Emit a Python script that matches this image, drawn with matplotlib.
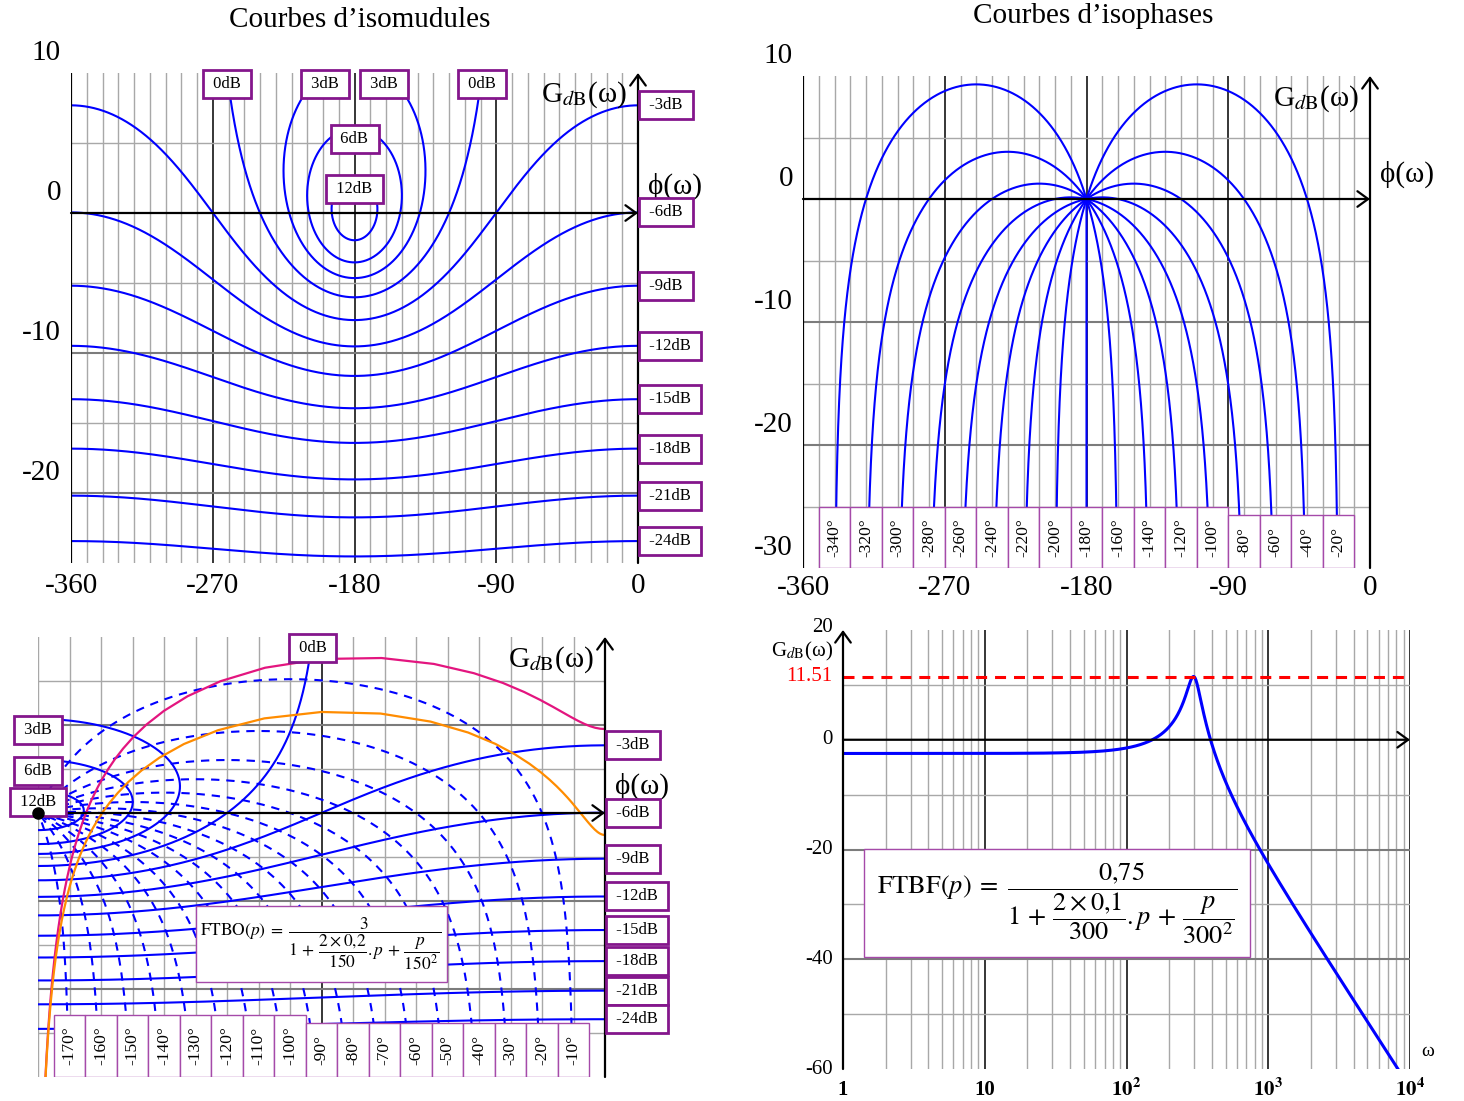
import numpy as np
import matplotlib
matplotlib.use("Agg")
import matplotlib.pyplot as plt
from matplotlib.patches import Rectangle
from matplotlib.transforms import offset_copy

plt.rcParams["font.family"] = ["Liberation Serif", "DejaVu Serif"]
plt.rcParams["mathtext.fontset"] = "stix"

# ---- data -----------------------------------------------------------------
ISO_MODULES_DB = [12, 6, 3, 0, -3, -6, -9, -12, -15, -18, -21, -24]
ISO_PHASES_TOP = [-340, -320, -300, -280, -260, -240, -220, -200, -180,
                  -160, -140, -120, -100, -80, -60, -40, -20]
ISO_PHASES_BOTTOM = [-170, -160, -150, -140, -130, -120, -110, -100, -90,
                     -80, -70, -60, -50, -40, -30, -20, -10]
FTBO_K, FTBO_ZETA, FTBO_WN = 3.0, 0.2, 150.0
FTBF_K, FTBF_ZETA, FTBF_WN = 0.75, 0.1, 300.0
FTBF_PEAK_DB = 11.51
NICHOLS_TICKS_X = [-360, -270, -180, -90, 0]
TL_TICKS_Y = [10, 0, -10, -20]
TR_TICKS_Y = [10, 0, -10, -20, -30]
BODE_TICKS_Y = [20, 0, -20, -40, -60]
BODE_TICKS_X = [1, 10, 100, 1000, 10000]
BODE_TICK_LABELS = ["1", "10", r"$\mathbf{10^{2}}$", r"$\mathbf{10^{3}}$", r"$\mathbf{10^{4}}$"]

BLUE = "#0000ff"
PURPLE = "#84168c"
LIGHT_PURPLE = "#a54aa9"
GRID_LIGHT = "#a8a8a8"
GRID_DARK = "#7c7c7c"
MAGENTA = "#e3157f"
ORANGE = "#ff8c00"

W, H = 1464, 1101
fig = plt.figure(figsize=(W / 100, H / 100), dpi=100)


def panel(left, top, right, bottom):
    ax = fig.add_axes([left / W, 1 - bottom / H, (right - left) / W, (bottom - top) / H])
    ax.axis("off")
    return ax


def shifted(ax, dx, dy):
    return offset_copy(ax.transData, fig=fig, x=dx, y=dy, units="dots")


def arrow(ax, start, end, lw=1.6):
    ax.annotate("", xy=end, xytext=start, annotation_clip=False, zorder=5,
                arrowprops=dict(arrowstyle="->,head_length=0.55,head_width=0.4",
                                mutation_scale=14, lw=lw, color="black",
                                shrinkA=0, shrinkB=0))


def second_order(k, zeta, wn, w):
    u = w / wn
    return k / (1 - u ** 2 + 2j * zeta * u)


def nichols_xy(g):
    phase = np.degrees(np.angle(g))
    phase = np.where(phase > 0, phase - 360, phase)
    gain = 20 * np.log10(np.abs(g))
    idx = np.where(np.abs(np.diff(phase)) > 180)[0] + 1
    return np.insert(phase, idx, np.nan), np.insert(gain, idx, np.nan)


def iso_module(mdb):
    m = 10 ** (mdb / 20)
    if mdb == 0:
        theta = np.linspace(1e-5, 2 * np.pi - 1e-5, 40001)
    else:
        theta = np.linspace(0, 2 * np.pi, 40001)
    h = m * np.exp(1j * theta)
    return nichols_xy(h / (1 - h))


def iso_phase(psi):
    r = np.logspace(-3, 5, 6000)
    h = r * np.exp(1j * np.radians(psi))
    return nichols_xy(h / (1 - h))


def nichols_frame(ax, xmin, ymin, ymax, left_black=True):
    ax.set_xlim(xmin, 0)
    ax.set_ylim(ymin, ymax)
    for x in range(xmin, 0, 10):
        if x == xmin and left_black:
            ax.axvline(x, color="black", lw=1.6, zorder=4)
        elif x % 90 == 0 and x != xmin:
            ax.axvline(x, color="black", lw=1.1, zorder=1)
        else:
            ax.axvline(x, color=GRID_LIGHT, lw=1.0, zorder=1)
    for y in range(int(np.ceil(ymin / 5)) * 5, int(ymax), 5):
        if y == 0 or y <= ymin:
            continue
        if y % 10 == 0:
            ax.axhline(y, color=GRID_DARK, lw=1.5, zorder=1)
        else:
            ax.axhline(y, color=GRID_LIGHT, lw=1.0, zorder=1)
    arrow(ax, (xmin, 0), (0, 0))
    arrow(ax, (0, ymin), (0, ymax))


def label_box(ax, x, y, text, dx, dy, ha):
    ax.text(x, y, f" {text} ", transform=shifted(ax, dx, dy), ha=ha, va="center",
            fontsize=12, zorder=8, clip_on=False,
            bbox=dict(boxstyle="square,pad=0.36", fc="white", ec=PURPLE, lw=2))


def draw_modules(ax, xmin, ymax):
    for mdb in ISO_MODULES_DB:
        x, y = iso_module(mdb)
        ax.plot(x, y, color=BLUE, lw=1.5, zorder=3)
        name = f"{mdb}dB"
        if mdb < 0:
            i = np.nanargmax(x)
            label_box(ax, 0, y[i], name, 7, 0, "left")
        elif np.nanmax(y) > ymax:
            s = y - ymax
            for i in np.where(s[:-1] * s[1:] < 0)[0]:
                xc = x[i] + (x[i + 1] - x[i]) * (ymax - y[i]) / (y[i + 1] - y[i])
                if xmin <= xc <= 0:
                    label_box(ax, xc, ymax, name, 0, -11, "center")
        else:
            i = np.nanargmax(y)
            label_box(ax, x[i], y[i], name, 0, -11, "center")


def draw_phases(ax, levels, width, top_hi, top_lo, ymin, dashed):
    for psi in levels:
        x, y = iso_phase(psi)
        ax.plot(x, y, color=BLUE, lw=1.5, zorder=3,
                linestyle=(0, (4, 3.3)) if dashed else "-")
    for psi in levels:
        top = top_hi if psi < -95 else top_lo
        ax.add_patch(Rectangle((psi - width / 2, ymin), width, top - ymin, fc="white",
                               ec=LIGHT_PURPLE, lw=1.0, zorder=6))
        ax.text(psi, (top + ymin) / 2, f"{psi}°", rotation=90, ha="center",
                va="center", fontsize=12.5, zorder=7)


def axis_names(ax, ymax, dy_g, dy_phi):
    ax.text(0, ymax, "G$_{d\\mathrm{B}}$(ω)", transform=shifted(ax, -11, dy_g),
            ha="right", va="center", fontsize=21, zorder=7)
    ax.text(0, 0, "ϕ(ω)", transform=shifted(ax, 10, dy_phi),
            ha="left", va="center", fontsize=21, zorder=7)


# ---- top left: iso-modules ----------------------------------------------
ax_tl = panel(71, 73, 638, 563)
nichols_frame(ax_tl, -360, -25, 10)
draw_modules(ax_tl, -360, 10)
axis_names(ax_tl, 10, -22, 27)
for v in TL_TICKS_Y:
    ax_tl.text(-360, v, f"{v}", transform=shifted(ax_tl, -10, 20), ha="right",
               va="center", fontsize=21)
for v in NICHOLS_TICKS_X:
    ax_tl.text(v, -25, f"{v}", transform=shifted(ax_tl, 0, -23), ha="center",
               va="center", fontsize=21)
fig.text(360 / W, 1 - 20 / H, "Courbes d’isomudules", ha="center", va="center", fontsize=21)

# ---- top right: iso-phases ----------------------------------------------
ax_tr = panel(803, 76, 1370, 568)
nichols_frame(ax_tr, -360, -30, 10)
draw_phases(ax_tr, ISO_PHASES_TOP, 20, -25.0, -25.7, -30, dashed=False)
axis_names(ax_tr, 10, -23, 25)
for v in TR_TICKS_Y:
    ax_tr.text(-360, v, f"{v}", transform=shifted(ax_tr, -10, 20), ha="right",
               va="center", fontsize=21)
for v in NICHOLS_TICKS_X:
    ax_tr.text(v, -30, f"{v}", transform=shifted(ax_tr, 0, -20), ha="center",
               va="center", fontsize=21)
fig.text(1093 / W, 1 - 16 / H, "Courbes d’isophases", ha="center", va="center", fontsize=21)

# ---- bottom left: Nichols chart with FTBO / FTBF ------------------------
ax_bl = panel(38, 637, 605, 1077)
nichols_frame(ax_bl, -180, -30, 20, left_black=False)
draw_phases(ax_bl, ISO_PHASES_BOTTOM, 10, -22.9, -23.9, -30, dashed=True)
draw_modules(ax_bl, -180, 20)
axis_names(ax_bl, 20, -23, 27)
w_lin = np.arange(0, 10001, 10.0)
xo, yo = nichols_xy(second_order(FTBO_K, FTBO_ZETA, FTBO_WN, w_lin))
ax_bl.plot(xo, yo, color=MAGENTA, lw=1.6, zorder=4)
xf, yf = nichols_xy(second_order(FTBF_K, FTBF_ZETA, FTBF_WN, w_lin))
ax_bl.plot(xf, yf, color=ORANGE, lw=1.6, zorder=4)
ax_bl.plot([-180], [0], "o", color="black", ms=8, zorder=9, clip_on=False)

fig.add_artist(Rectangle((196 / W, 1 - 982 / H), 251 / W, 76 / H, transform=fig.transFigure,
                         fc="white", ec=LIGHT_PURPLE, lw=1.0, zorder=2))
fig.text(321 / W, 1 - 944 / H,
         r"$\mathrm{FTBO}(p)\;=\;\dfrac{3}{1\,+\,\dfrac{2\times 0{,}2}{150}.p\,+\,\dfrac{p}{150^2}}$",
         ha="center", va="center", fontsize=12.5, zorder=3)

# ---- bottom right: Bode magnitude of FTBF -------------------------------
ax_br = panel(843, 630, 1410, 1069)
ax_br.set_xscale("log")
ax_br.set_xlim(1, 1e4)
ax_br.set_ylim(-60, 20)
for d in [1, 10, 100, 1000]:
    for k in range(2, 10):
        ax_br.axvline(k * d, color=GRID_LIGHT, lw=1.0, zorder=1)
for d in [10, 100, 1000, 10000]:
    ax_br.axvline(d, color="black", lw=1.1, zorder=1)
for y in [10, -10, -30, -50]:
    ax_br.axhline(y, color=GRID_LIGHT, lw=1.0, zorder=1)
for y in [-20, -40]:
    ax_br.axhline(y, color=GRID_DARK, lw=1.5, zorder=1)
arrow(ax_br, (1, 0), (1e4, 0))
arrow(ax_br, (1, -60), (1, 20))
w_log = np.logspace(0, 4, 3000)
g_bf = 20 * np.log10(np.abs(second_order(FTBF_K, FTBF_ZETA, FTBF_WN, w_log)))
ax_br.plot(w_log, g_bf, color=BLUE, lw=2.2, zorder=3)
ax_br.axhline(FTBF_PEAK_DB, color="red", lw=2.2, linestyle=(0, (3.6, 2.6)), zorder=3)
for v in BODE_TICKS_Y:
    ax_br.text(1, v, f"{v}", transform=shifted(ax_br, -10, 3 if v == 20 else 0),
               ha="right", va="center", fontsize=15)
ax_br.text(1, FTBF_PEAK_DB, f"{FTBF_PEAK_DB}", transform=shifted(ax_br, -11, 0),
           ha="right", va="center", fontsize=15, color="red")
ax_br.text(1, 20, "G$_{d\\mathrm{B}}$(ω)", transform=shifted(ax_br, -10, -21),
           ha="right", va="center", fontsize=15)
for v, s in zip(BODE_TICKS_X, BODE_TICK_LABELS):
    ax_br.text(v, -60, s, transform=shifted(ax_br, 0, -21), ha="center",
               va="center", fontsize=15, fontweight="bold")
ax_br.text(1e4, -60, "ω", transform=shifted(ax_br, 18, 17), ha="center",
           va="center", fontsize=14)

fig.add_artist(Rectangle((864 / W, 1 - 957 / H), 386 / W, 108 / H, transform=fig.transFigure,
                         fc="white", ec=LIGHT_PURPLE, lw=1.0, zorder=2))
fig.text(1057 / W, 1 - 903 / H,
         r"$\mathrm{FTBF}(p)\;=\;\dfrac{0{,}75}{1\,+\,\dfrac{2\times 0{,}1}{300}.p\,+\,\dfrac{p}{300^2}}$",
         ha="center", va="center", fontsize=19, zorder=3)

fig.savefig("out.png", dpi=100, facecolor="white")
